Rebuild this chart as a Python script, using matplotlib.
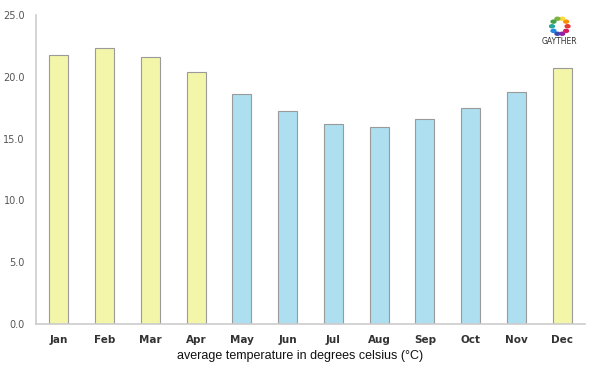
import matplotlib
matplotlib.use('Agg')
import matplotlib.pyplot as plt
import numpy as np

# === DATA ===
months = ['Jan', 'Feb', 'Mar', 'Apr', 'May', 'Jun', 'Jul', 'Aug', 'Sep', 'Oct', 'Nov', 'Dec']
temps = [21.8, 22.3, 21.6, 20.4, 18.6, 17.2, 16.2, 15.9, 16.6, 17.5, 18.8, 20.7]
warm = [True, True, True, True, False, False, False, False, False, False, False, True]
y_ticks = [0.0, 5.0, 10.0, 15.0, 20.0, 25.0]

YELLOW = '#f3f5a9'
BLUE = '#addff0'

fig = plt.figure(figsize=(6, 3.75), dpi=100)
ax = fig.add_axes([0.06, 0.136, 0.915, 0.824])

x = np.arange(len(months))
colors = [YELLOW if w else BLUE for w in warm]
ax.bar(x, temps, width=0.415, color=colors, edgecolor='#9a9a9a', linewidth=0.8)

ax.set_xlim(-0.5, 11.5)
ax.set_ylim(0, 25)
ax.set_yticks(y_ticks)
ax.set_yticklabels([f"{v:.1f}" for v in y_ticks], color='#555555', fontsize=7)
ax.set_xticks(x)
ax.set_xticklabels(months, color='#333333', fontsize=7.5, fontweight='bold')
ax.tick_params(axis='both', length=0)
ax.tick_params(axis='x', pad=8)
ax.tick_params(axis='y', pad=8)

for side in ['top', 'right']:
    ax.spines[side].set_visible(False)
for side in ['left', 'bottom']:
    ax.spines[side].set_color('#cccccc')
    ax.spines[side].set_linewidth(1.2)

fig.text(0.5, 0.05, 'average temperature in degrees celsius (°C)', ha='center', va='center',
         fontsize=9, color='#111111', family='Liberation Sans')

# === logo (approximation) ===
logo_cols = ['#e53935', '#fb8c00', '#fdd835', '#7cb342', '#43a047', '#26a69a',
             '#1e88e5', '#3949ab', '#8e24aa', '#d81b60']
ang = np.linspace(0, 2 * np.pi, len(logo_cols), endpoint=False)
lx = 0.933 + 0.013 * np.cos(ang)
ly = 0.93 + 0.021 * np.sin(ang)
for cx, cy, c in zip(lx, ly, logo_cols):
    fig.add_artist(plt.Circle((cx, cy), 0.004, transform=fig.transFigure, color=c))
fig.text(0.933, 0.888, 'GAYTHER', ha='center', va='center', fontsize=5.5, color='#333333')

fig.savefig('out.png', dpi=100)
